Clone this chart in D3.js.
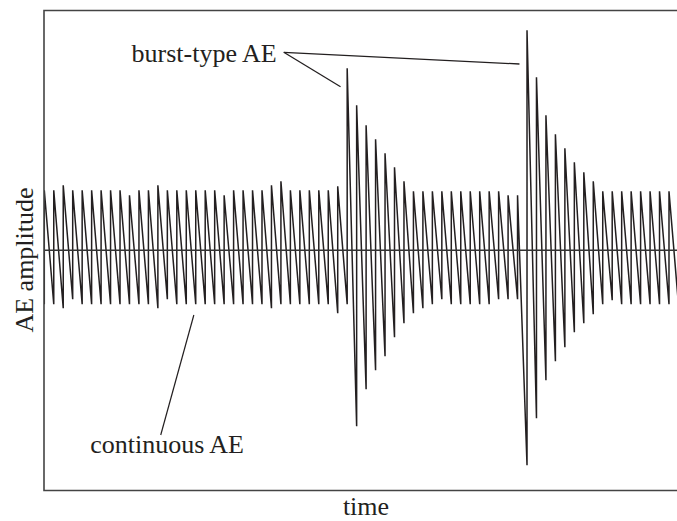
<!DOCTYPE html>
<html><head><meta charset="utf-8">
<script src="https://cdn.jsdelivr.net/npm/d3@7/dist/d3.min.js"></script>
<style>
html,body{margin:0;padding:0;background:#fff;}
svg{display:block;}
text{font-family:"Liberation Serif","Times New Roman",serif;fill:#231f20;}
</style></head>
<body>
<svg id="chart" width="677" height="521"></svg>
<script>
// Peak index (time) -> amplitude of the top reached after the rise at that instant
const tops = [60,60,65,60,60,60,60,60,60,55,60,60,65,60,60,60,60,60,60,55,
              60,60,60,60,65,69,60,60,60,60,60,64,182,145,125,111,97,83,69,59,
              59,59,59,59,59,59,59,59,59,55,55,220,173,135,116,102,88,78,69,59,
              59,59,59,59,59,59,59,59];
// amplitude of the trough reached at the same instant (end of the decaying fall)
const bottoms = [-54,-54,-58,-49,-54,-54,-54,-54,-54,-54,-54,-54,-58,-49,-54,-54,-54,-54,-54,-54,
                 -54,-54,-54,-54,-58,-54,-54,-54,-54,-54,-54,-63,-54,-176,-139,-120,-106,-87,-73,-63,
                 -58,-54,-49,-54,-54,-54,-54,-54,-49,-49,-49,-215,-168,-130,-111,-97,-82,-73,-64,-54,
                 -50,-54,-54,-54,-54,-54,-54,-54];
const xLabel = "time";
const yLabel = "AE amplitude";
const burstLabel = "burst-type AE";
const contLabel = "continuous AE";

const svg = d3.select("#chart");
const plot = {left:44, right:677, top:10.5, bottom:490.5};
const x = d3.scaleLinear().domain([0, 67]).range([44.3, 44.3 + 9.465*67]);
const y = d3.scaleLinear().domain([-240, 240]).range([490.3, 10.3]);

svg.append("defs").append("clipPath").attr("id","clip")
  .append("rect").attr("x",plot.left).attr("y",0).attr("width",plot.right-plot.left).attr("height",521);

// signal points: trough then vertical rise to top at each instant
const pts = [];
tops.forEach((t,i)=>{ pts.push([i,bottoms[i]]); pts.push([i,t]); });
const line = d3.line().x(d=>x(d[0])).y(d=>y(d[1]));

svg.append("path").attr("d", line(pts)).attr("clip-path","url(#clip)")
  .attr("fill","none").attr("stroke","#231f20").attr("stroke-width",1.5).attr("stroke-linejoin","miter");

// zero line
svg.append("line").attr("x1",plot.left).attr("x2",plot.right).attr("y1",y(0)).attr("y2",y(0))
  .attr("stroke","#333").attr("stroke-width",1.4);

// frame (right side open/cut)
svg.append("path")
  .attr("d",`M${plot.right+2},${plot.top}H${plot.left}V${plot.bottom}H${plot.right+2}`)
  .attr("fill","none").attr("stroke","#444").attr("stroke-width",1.6);

// axis labels
svg.append("text").attr("x",366).attr("y",515).attr("text-anchor","middle")
  .attr("font-size",26).text(xLabel);
svg.append("text").attr("transform","translate(33,260) rotate(-90)").attr("text-anchor","middle")
  .attr("font-size",26).text(yLabel);

// annotations (anchors in data units)
const burstAnchor = [25.3, 198];
const burstTargets = [[31.3, 163.6],[50.2, 186.3]];
svg.append("text").attr("x",x(burstAnchor[0])-7).attr("y",y(188.6)).attr("text-anchor","end")
  .attr("font-size",26).text(burstLabel);
burstTargets.forEach(tg=>{
  svg.append("line").attr("x1",x(burstAnchor[0])).attr("y1",y(burstAnchor[1]))
    .attr("x2",x(tg[0])).attr("y2",y(tg[1])).attr("stroke","#231f20").attr("stroke-width",1.3);
});
svg.append("line").attr("x1",x(15.8)).attr("y1",y(-64.7)).attr("x2",x(12.3)).attr("y2",y(-184.7))
  .attr("stroke","#231f20").attr("stroke-width",1.2);
svg.append("text").attr("x",244).attr("y",y(-203)).attr("text-anchor","end")
  .attr("font-size",26).text(contLabel);
</script>
</body></html>
